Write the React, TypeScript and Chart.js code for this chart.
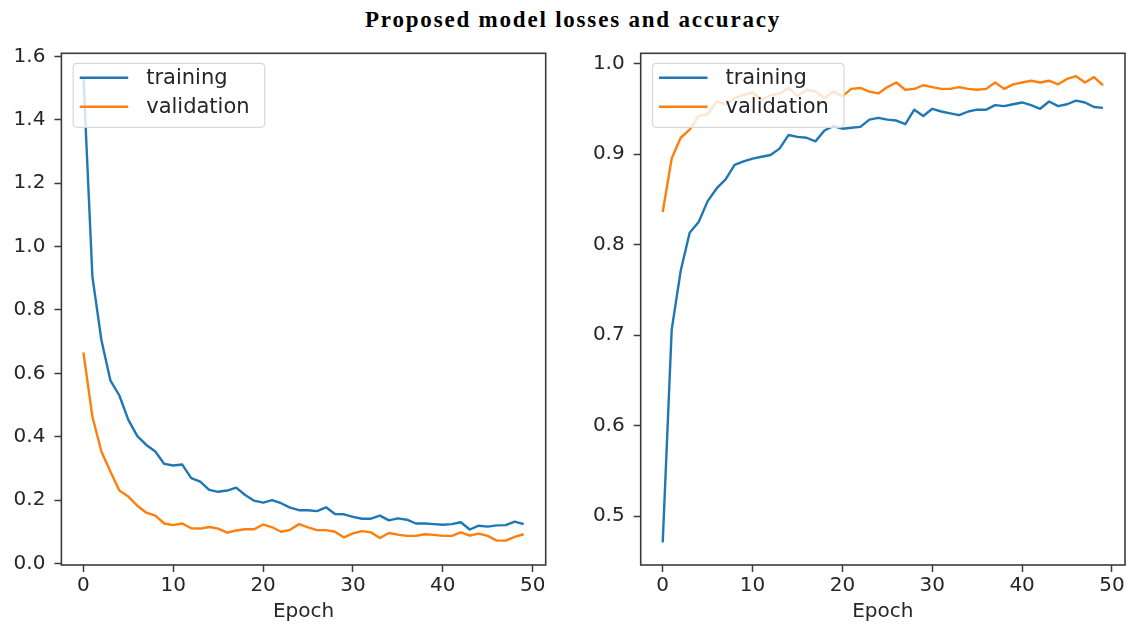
import React, { useEffect, useRef } from "react";
import { Chart, registerables } from "chart.js";

Chart.register(...registerables);

// ---------- data ----------
const epochs = [
  0, 1, 2, 3, 4, 5, 6, 7, 8, 9, 10, 11, 12, 13, 14, 15, 16, 17, 18, 19, 20, 21, 22, 23, 24,
  25, 26, 27, 28, 29, 30, 31, 32, 33, 34, 35, 36, 37, 38, 39, 40, 41, 42, 43, 44, 45, 46, 47, 48, 49,
];

const trainLoss = [
  1.535, 0.905, 0.705, 0.578, 0.53, 0.453, 0.402, 0.374, 0.353, 0.314,
  0.309, 0.312, 0.269, 0.258, 0.232, 0.226, 0.23, 0.239, 0.216, 0.198,
  0.192, 0.2, 0.19, 0.176, 0.168, 0.168, 0.165, 0.177, 0.156, 0.155,
  0.147, 0.141, 0.141, 0.151, 0.136, 0.142, 0.138, 0.126, 0.126, 0.124,
  0.122, 0.124, 0.13, 0.107, 0.119, 0.116, 0.12, 0.121, 0.132, 0.124,
];

const valLoss = [
  0.666, 0.463, 0.353, 0.29, 0.23, 0.211, 0.182, 0.16, 0.151, 0.126,
  0.121, 0.126, 0.111, 0.11, 0.115, 0.11, 0.097, 0.104, 0.108, 0.108,
  0.123, 0.114, 0.1, 0.106, 0.124, 0.114, 0.105, 0.105, 0.1, 0.082,
  0.095, 0.102, 0.098, 0.08, 0.096, 0.091, 0.087, 0.087, 0.092, 0.09,
  0.087, 0.087, 0.098, 0.088, 0.094, 0.087, 0.072, 0.072, 0.084, 0.092,
];

const trainAcc = [
  0.471, 0.706, 0.771, 0.813, 0.825, 0.848, 0.862, 0.872, 0.888, 0.892,
  0.895, 0.897, 0.899, 0.906, 0.921, 0.919, 0.918, 0.914, 0.926, 0.931,
  0.928, 0.929, 0.93, 0.938, 0.94, 0.938, 0.937, 0.933, 0.949, 0.942,
  0.95, 0.947, 0.945, 0.943, 0.947, 0.949, 0.949, 0.954, 0.953, 0.955,
  0.957, 0.954, 0.95, 0.958, 0.953, 0.955, 0.959, 0.957, 0.952, 0.951,
];

const valAcc = [
  0.836, 0.895, 0.918, 0.927, 0.942, 0.944, 0.958, 0.955, 0.962, 0.965,
  0.968, 0.96, 0.965, 0.967, 0.973, 0.964, 0.971, 0.969, 0.962, 0.969,
  0.964, 0.972, 0.973, 0.969, 0.967, 0.974, 0.979, 0.971, 0.972, 0.976,
  0.974, 0.972, 0.972, 0.974, 0.972, 0.971, 0.972, 0.979, 0.972, 0.977,
  0.979, 0.981, 0.979, 0.981, 0.977, 0.983, 0.986, 0.979, 0.985, 0.976,
];

const epochTicks = [0, 10, 20, 30, 40, 50];
const lossTicks = [0, 0.2, 0.4, 0.6, 0.8, 1.0, 1.2, 1.4, 1.6];
const accTicks = [0.5, 0.6, 0.7, 0.8, 0.9, 1.0];

const seriesLabels = ["training", "validation"];
const titleText = "Proposed model losses and accuracy";
const xAxisTitle = "Epoch";

// ---------- styles ----------
const BLUE = "#1f77b4";
const ORANGE = "#ff7f0e";
const TEXT = "#262626";
const AXIS = "#3a3a3a";
const FONT = "'DejaVu Sans', sans-serif";

const framePlugin = {
  id: "mplFrame",
  afterDatasetsDraw(chart: any) {
    const { ctx, chartArea } = chart;
    const { left, top, right, bottom } = chartArea;
    ctx.save();
    ctx.strokeStyle = AXIS;
    ctx.lineWidth = 1.6;
    ctx.strokeRect(left, top, right - left, bottom - top);
    ctx.restore();
  },
};

function roundRect(ctx: CanvasRenderingContext2D, x: number, y: number, w: number, h: number, r: number) {
  ctx.beginPath();
  ctx.moveTo(x + r, y);
  ctx.lineTo(x + w - r, y);
  ctx.quadraticCurveTo(x + w, y, x + w, y + r);
  ctx.lineTo(x + w, y + h - r);
  ctx.quadraticCurveTo(x + w, y + h, x + w - r, y + h);
  ctx.lineTo(x + r, y + h);
  ctx.quadraticCurveTo(x, y + h, x, y + h - r);
  ctx.lineTo(x, y + r);
  ctx.quadraticCurveTo(x, y, x + r, y);
  ctx.closePath();
}

const legendPlugin = {
  id: "mplLegend",
  afterDatasetsDraw(chart: any) {
    const { ctx, chartArea } = chart;
    const x = chartArea.left + 11.8;
    const y = chartArea.top + 10;
    const w = 191.5;
    const h = 64;
    ctx.save();
    roundRect(ctx, x, y, w, h, 4);
    ctx.fillStyle = "rgba(255,255,255,0.8)";
    ctx.fill();
    ctx.strokeStyle = "#d8d8d8";
    ctx.lineWidth = 1.2;
    ctx.stroke();
    chart.data.datasets.forEach((ds: any, i: number) => {
      const ly = y + 14.5 + i * 29;
      ctx.beginPath();
      ctx.moveTo(x + 6.5, ly);
      ctx.lineTo(x + 55, ly);
      ctx.strokeStyle = ds.borderColor;
      ctx.lineWidth = 2.4;
      ctx.stroke();
      ctx.fillStyle = TEXT;
      ctx.font = `21px ${FONT}`;
      ctx.textAlign = "left";
      ctx.textBaseline = "middle";
      ctx.fillText(ds.label, x + 73, ly + 1);
    });
    ctx.restore();
  },
};

function buildConfig(
  train: number[],
  val: number[],
  yMin: number,
  yMax: number,
  yTicks: number[],
  yAxisWidth: number,
  padRight: number
): any {
  const tickFont = { family: FONT, size: 20 };
  return {
    type: "line",
    data: {
      datasets: [
        {
          label: seriesLabels[0],
          data: epochs.map((e, i) => ({ x: e, y: train[i] })),
          borderColor: BLUE,
          backgroundColor: BLUE,
          borderWidth: 2.4,
          pointRadius: 0,
          tension: 0,
          borderJoinStyle: "round",
        },
        {
          label: seriesLabels[1],
          data: epochs.map((e, i) => ({ x: e, y: val[i] })),
          borderColor: ORANGE,
          backgroundColor: ORANGE,
          borderWidth: 2.4,
          pointRadius: 0,
          tension: 0,
          borderJoinStyle: "round",
        },
      ],
    },
    options: {
      responsive: false,
      animation: false,
      devicePixelRatio: 1,
      events: [],
      layout: { padding: { left: 0, top: 53.3, right: padRight, bottom: 0 } },
      plugins: {
        legend: { display: false },
        tooltip: { enabled: false },
        title: { display: false },
      },
      scales: {
        x: {
          type: "linear",
          bounds: "data",
          min: -2.45,
          max: 51.45,
          afterBuildTicks: (s: any) => {
            s.ticks = epochTicks.map((v) => ({ value: v }));
          },
          afterFit: (s: any) => {
            s.height = 61;
          },
          ticks: {
            font: tickFont,
            color: TEXT,
            padding: 2,
            maxRotation: 0,
            autoSkip: false,
            callback: (v: any) => String(v),
          },
          grid: {
            drawOnChartArea: false,
            drawTicks: true,
            tickLength: 7,
            tickColor: AXIS,
            tickWidth: 1.5,
          },
          border: { display: false },
          title: {
            display: true,
            text: xAxisTitle,
            font: tickFont,
            color: TEXT,
            padding: { top: 0, bottom: 2 },
          },
        },
        y: {
          type: "linear",
          bounds: "data",
          min: yMin,
          max: yMax,
          afterBuildTicks: (s: any) => {
            s.ticks = yTicks.map((v) => ({ value: v }));
          },
          afterFit: (s: any) => {
            s.width = yAxisWidth;
          },
          ticks: {
            font: tickFont,
            color: TEXT,
            padding: 9,
            autoSkip: false,
            callback: (v: any) => Number(v).toFixed(1),
          },
          grid: {
            drawOnChartArea: false,
            drawTicks: true,
            tickLength: 7,
            tickColor: AXIS,
            tickWidth: 1.5,
          },
          border: { display: false },
        },
      },
    },
    plugins: [framePlugin, legendPlugin],
  };
}

export default function App() {
  const leftRef = useRef<HTMLCanvasElement | null>(null);
  const rightRef = useRef<HTMLCanvasElement | null>(null);

  useEffect(() => {
    const charts: Chart[] = [];
    if (leftRef.current) {
      charts.push(
        new Chart(leftRef.current, buildConfig(trainLoss, valLoss, -0.005, 1.61, lossTicks, 61.4, 34.3))
      );
    }
    if (rightRef.current) {
      charts.push(
        new Chart(rightRef.current, buildConfig(trainAcc, valAcc, 0.446, 1.0113, accTicks, 60.7, 4))
      );
    }
    return () => {
      charts.forEach((c) => c.destroy());
    };
  }, []);

  return (
    <div
      style={{
        position: "absolute",
        left: 0,
        top: 0,
        width: 1129,
        height: 626,
        background: "#ffffff",
        overflow: "hidden",
      }}
    >
      <div
        style={{
          position: "absolute",
          left: 573,
          top: 8,
          transform: "translateX(-50%)",
          whiteSpace: "nowrap",
          fontFamily: "'Liberation Serif', 'Times New Roman', serif",
          fontWeight: "bold",
          fontSize: 23,
          lineHeight: "23px",
          letterSpacing: 1.8,
          color: "#000",
        }}
      >
        {titleText}
      </div>
      <canvas
        ref={leftRef}
        width={580}
        height={626}
        style={{ position: "absolute", left: 0, top: 0, width: 580, height: 626 }}
      />
      <canvas
        ref={rightRef}
        width={549}
        height={626}
        style={{ position: "absolute", left: 580, top: 0, width: 549, height: 626 }}
      />
    </div>
  );
}
